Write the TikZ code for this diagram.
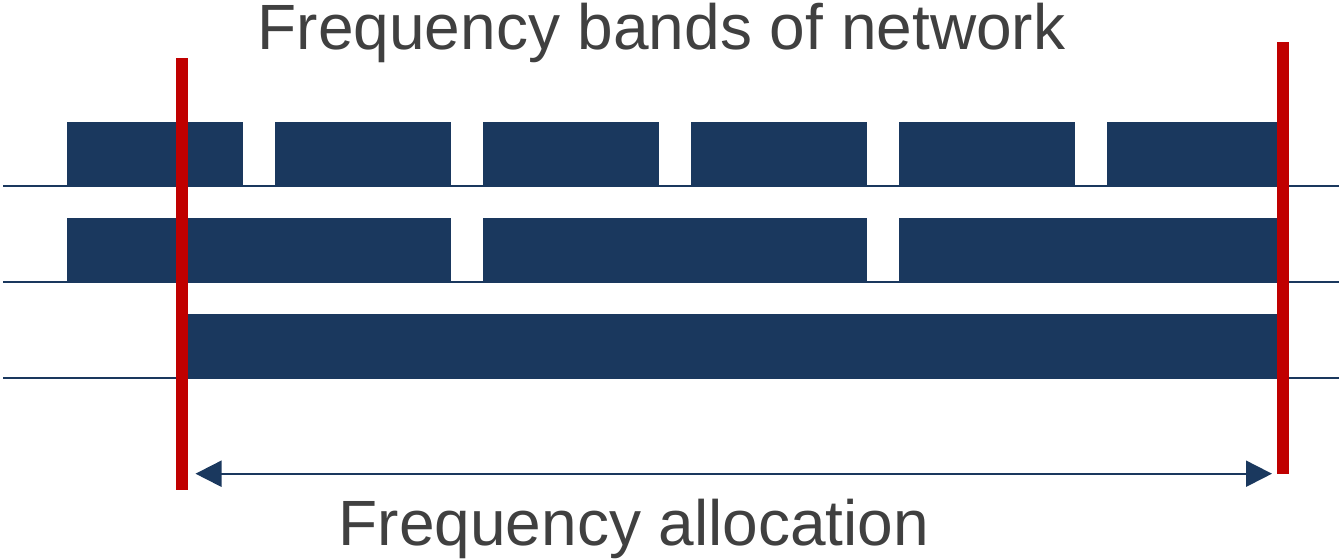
\documentclass[tikz,border=0pt]{standalone}
\usepackage{fontspec}
\setmainfont{Liberation Sans}
\usetikzlibrary{arrows.meta}
\definecolor{navy}{HTML}{1A385E}
\definecolor{redline}{HTML}{C00000}
\definecolor{txt}{HTML}{404040}
\begin{document}
\begin{tikzpicture}[x=0.75pt,y=-0.75pt,
  band/.style={fill=navy,draw=none},
  baseline rule/.style={draw=navy,line width=1.5pt},
  limit/.style={draw=redline,line width=9pt},
  span arrow/.style={draw=navy,line width=1.5pt,{Triangle[length=19.5pt,width=19.5pt]}-{Triangle[length=19.5pt,width=19.5pt]}},
  label/.style={text=txt,font=\fontsize{48}{58}\selectfont,inner sep=0pt,anchor=base}]
\useasboundingbox (0,0) rectangle (1339,558);
% horizontal rules
\foreach \y in {186,282,378} \draw[baseline rule] (3,\y) -- (1339,\y);
% row 1
\foreach \a/\b in {67/243,275/451,483/659,691/867,899/1075,1107/1283}
  \fill[band] (\a,122) rectangle (\b,187);
% row 2
\foreach \a/\b in {67/451,483/867,899/1283}
  \fill[band] (\a,218) rectangle (\b,283);
% row 3
\fill[band] (182,314) rectangle (1283,379);
% red limits
\coordinate (l1) at (182,58);
\coordinate (l2) at (182,490);
\coordinate (r1) at (1283,42);
\coordinate (r2) at (1283,474);
\draw[limit] (l1) -- (l2);
\draw[limit] (r1) -- (r2);
% allocation arrow
\coordinate (aL) at (195.5,473.7);
\coordinate (aR) at (1272,473.7);
\draw[span arrow] (aL) -- (aR);
% labels
\node[label] (title) at (661.5,49) {Frequency bands of network};
\node[label] (alloc) at (634,545) {Frequency allocation};
\end{tikzpicture}
\end{document}
